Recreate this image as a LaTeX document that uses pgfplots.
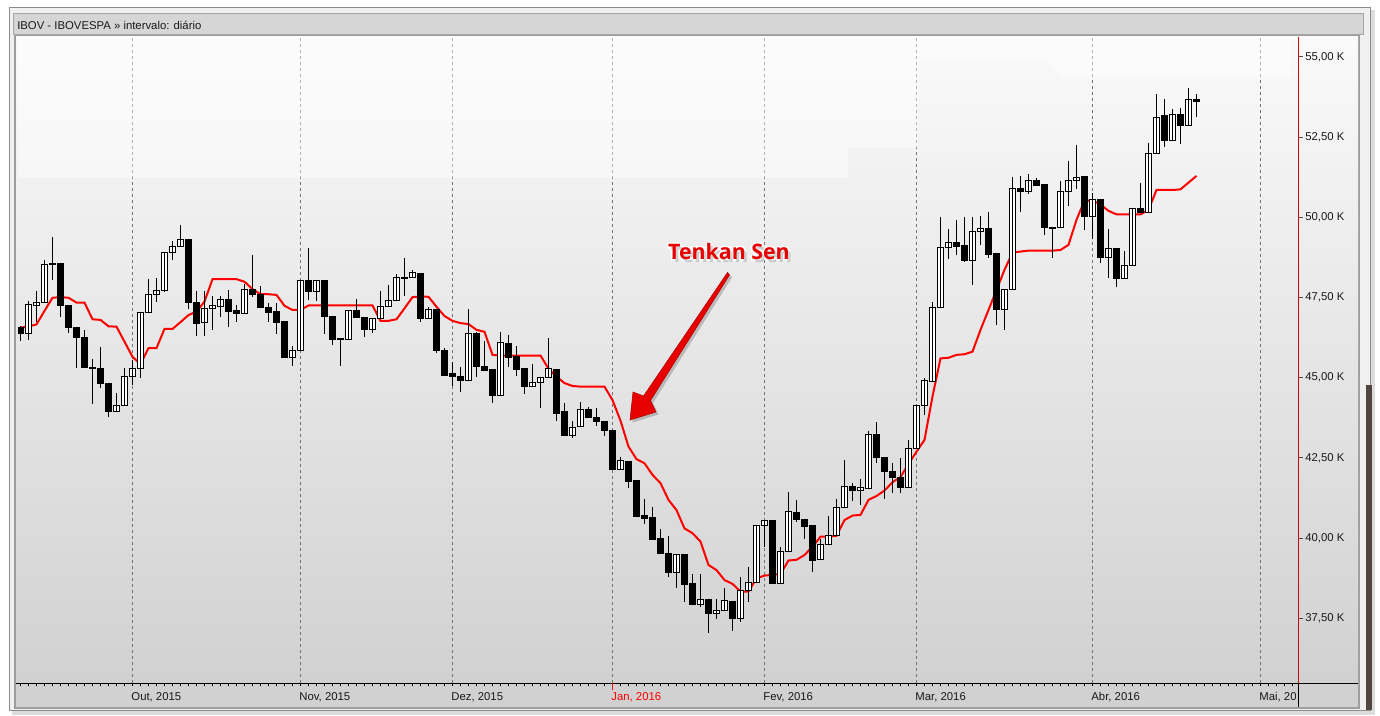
\documentclass[border=0pt]{standalone}
\usepackage{pgfplots}
\pgfplotsset{compat=1.18}
\usepackage{pgfplotstable}
\usepackage{fontspec}
\setmainfont{Liberation Sans}
\newfontfamily\annfont{Open Sans}

\pgfplotstableread{
k o h l c
0 46.55 46.62 46.14 46.37
1 46.37 47.39 46.18 47.27
2 47.25 47.70 46.75 47.35
3 47.35 48.67 47.35 48.54
4 48.52 49.39 48.05 48.56
5 48.55 48.55 46.90 47.25
6 47.25 47.25 46.40 46.56
7 46.57 46.57 45.29 46.25
8 46.26 46.49 45.30 45.32
9 45.33 45.57 44.18 45.30
10 45.29 45.96 44.69 44.81
11 44.83 44.83 43.77 43.94
12 43.94 44.53 43.94 44.14
13 44.14 45.29 44.14 45.04
14 45.04 45.55 44.77 45.29
15 45.29 47.04 44.98 47.04
16 47.02 48.08 47.02 47.60
17 47.60 48.10 47.37 47.73
18 47.73 48.92 47.68 48.91
19 48.91 49.26 48.67 49.08
20 49.08 49.76 49.08 49.32
21 49.32 49.32 47.13 47.34
22 47.35 47.70 46.30 46.68
23 46.73 47.70 46.30 47.16
24 47.17 47.56 46.49 47.24
25 47.23 47.55 46.90 47.45
26 47.45 47.73 46.59 47.06
27 47.08 47.27 46.75 47.00
28 47.01 47.91 47.01 47.76
29 47.76 48.83 47.51 47.58
30 47.58 47.86 47.16 47.18
31 47.20 47.34 46.72 47.03
32 47.05 47.32 46.36 46.72
33 46.74 46.74 45.62 45.64
34 45.64 45.99 45.36 45.86
35 45.86 48.05 45.86 48.04
36 48.04 49.04 47.42 47.68
37 47.68 48.05 47.40 48.04
38 48.04 48.04 46.36 46.90
39 46.92 46.92 46.02 46.20
40 46.21 46.21 45.36 46.19
41 46.20 47.11 46.20 47.09
42 47.09 47.44 46.86 46.87
43 46.88 46.88 46.28 46.49
44 46.51 46.86 46.38 46.85
45 46.85 47.69 46.85 47.21
46 47.21 47.89 47.21 47.41
47 47.41 48.23 47.41 48.13
48 48.08 48.72 47.53 48.13
49 48.13 48.36 48.13 48.29
50 48.26 48.26 46.72 46.84
51 46.85 47.21 46.85 47.13
52 47.13 47.13 45.78 45.84
53 45.86 45.92 45.07 45.08
54 45.12 45.49 44.74 45.03
55 45.05 45.32 44.56 44.91
56 44.91 47.14 44.91 46.38
57 46.38 46.43 45.01 45.34
58 45.36 46.14 45.20 45.22
59 45.24 45.24 44.22 44.44
60 44.44 46.43 44.44 46.10
61 46.08 46.33 45.34 45.64
62 45.66 45.99 45.05 45.24
63 45.27 45.27 44.49 44.72
64 44.72 45.43 44.72 44.86
65 44.86 45.01 44.06 45.01
66 45.01 46.24 45.01 45.27
67 45.24 45.24 43.66 43.88
68 43.93 44.20 43.18 43.19
69 43.19 43.64 43.13 43.45
70 43.48 44.24 43.48 44.01
71 44.01 44.10 43.74 43.75
72 43.77 44.05 43.50 43.63
73 43.64 43.64 43.19 43.35
74 43.34 43.34 42.12 42.13
75 42.13 42.54 42.13 42.42
76 42.40 42.40 41.57 41.76
77 41.78 41.78 40.67 40.67
78 40.69 41.22 40.45 40.60
79 40.63 40.96 39.95 39.95
80 39.97 40.27 39.51 39.51
81 39.52 40.06 38.80 38.92
82 38.92 39.49 38.45 39.49
83 39.49 39.49 38.00 38.56
84 38.57 38.88 37.93 37.93
85 37.93 38.88 37.85 38.07
86 38.07 38.07 37.05 37.65
87 37.65 38.10 37.48 37.73
88 37.74 38.43 37.74 38.04
89 38.03 38.03 37.11 37.50
90 37.50 38.80 37.39 38.36
91 38.36 39.11 38.00 38.62
92 38.62 40.40 38.62 40.40
93 40.40 40.55 39.73 40.55
94 40.55 40.55 38.59 38.59
95 38.59 39.71 38.59 39.59
96 39.59 41.44 39.59 40.83
97 40.80 41.19 40.50 40.58
98 40.58 40.58 39.96 40.35
99 40.38 40.38 38.93 39.29
100 39.34 39.96 39.34 39.81
101 39.81 40.69 39.81 40.07
102 40.07 41.22 40.07 40.96
103 40.96 42.43 40.96 41.61
104 41.61 41.71 41.16 41.48
105 41.49 41.84 41.03 41.56
106 41.55 43.34 41.55 43.23
107 43.23 43.62 42.35 42.51
108 42.52 42.52 41.21 42.07
109 42.08 42.33 41.41 41.88
110 41.89 42.49 41.41 41.58
111 41.58 43.06 41.58 42.80
112 42.80 44.12 42.80 44.12
113 44.12 45.00 43.84 44.90
114 44.88 47.36 44.88 47.20
115 47.19 50.00 47.19 49.07
116 49.07 49.64 48.70 49.22
117 49.22 49.92 48.83 49.08
118 49.11 50.00 48.59 48.65
119 48.65 50.02 47.89 49.57
120 49.57 50.04 49.14 49.64
121 49.64 50.17 48.72 48.83
122 48.86 48.86 46.64 47.11
123 47.11 47.76 46.49 47.76
124 47.76 51.27 47.76 50.91
125 50.91 51.29 50.18 50.80
126 50.80 51.35 50.73 51.16
127 51.16 51.23 50.99 50.99
128 51.01 51.01 49.45 49.68
129 49.69 49.69 48.74 49.64
130 49.68 51.13 49.68 50.81
131 50.81 51.76 50.36 51.16
132 51.16 52.26 50.88 51.25
133 51.26 51.26 49.61 50.02
134 50.02 50.77 49.32 50.56
135 50.54 50.54 48.57 48.75
136 48.75 49.64 48.10 49.03
137 49.03 49.03 47.84 48.10
138 48.10 48.95 48.10 48.50
139 48.50 50.28 48.50 50.28
140 50.28 51.06 50.14 50.14
141 50.14 52.33 50.14 52.00
142 52.00 53.85 52.00 53.12
143 53.16 53.68 52.20 52.39
144 52.39 53.37 52.39 53.21
145 53.21 53.40 52.28 52.86
146 52.86 54.03 52.86 53.68
147 53.68 53.85 53.12 53.61
}\candles

\pgfplotstableread{
k t
0 46.56
1 46.59
2 46.66
3 47.08
4 47.49
5 47.51
6 47.49
7 47.34
8 47.34
9 46.82
10 46.80
11 46.60
12 46.59
13 46.12
14 45.65
15 45.42
16 45.92
17 45.92
18 46.52
19 46.52
20 46.73
21 46.95
22 47.06
23 47.37
24 48.07
25 48.07
26 48.07
27 48.07
28 47.99
29 47.76
30 47.60
31 47.60
32 47.58
33 47.24
34 47.11
35 47.11
36 47.25
37 47.25
38 47.25
39 47.25
40 47.25
41 47.25
42 47.25
43 47.25
44 47.25
45 46.77
46 46.77
47 46.82
48 47.16
49 47.51
50 47.53
51 47.52
52 47.21
53 46.92
54 46.77
55 46.70
56 46.67
57 46.49
58 46.43
59 45.71
60 45.69
61 45.69
62 45.69
63 45.69
64 45.69
65 45.69
66 45.28
67 45.03
68 44.83
69 44.74
70 44.72
71 44.72
72 44.72
73 44.72
74 44.30
75 43.66
76 42.85
77 42.46
78 42.33
79 41.97
80 41.71
81 41.19
82 40.87
83 40.30
84 40.15
85 39.89
86 39.16
87 39.00
88 38.69
89 38.57
90 38.33
91 38.33
92 38.74
93 38.83
94 38.85
95 38.88
96 39.30
97 39.32
98 39.47
99 39.73
100 40.04
101 40.04
102 40.07
103 40.56
104 40.70
105 40.72
106 41.19
107 41.31
108 41.48
109 41.74
110 41.90
111 42.31
112 42.69
113 43.06
114 44.41
115 45.60
116 45.62
117 45.71
118 45.73
119 45.81
120 46.49
121 47.11
122 47.73
123 48.36
124 48.90
125 48.93
126 48.96
127 48.96
128 48.96
129 48.96
130 48.98
131 49.14
132 49.92
133 50.52
134 50.52
135 50.40
136 50.20
137 50.09
138 50.09
139 50.09
140 50.09
141 50.23
142 50.85
143 50.85
144 50.85
145 50.87
146 51.08
147 51.29
}\tenkan

\definecolor{tick}{RGB}{25,25,25}
\definecolor{tenkanred}{RGB}{255,0,0}
\definecolor{annred}{RGB}{230,0,0}
\definecolor{deskdark}{RGB}{82,70,64}

\begin{document}
\begin{tikzpicture}[x=0.75pt,y=-0.75pt]
\useasboundingbox (0,0) rectangle (1380,716);
\fill[white] (0,0) rectangle (1380,716);
% window frame
\fill[black!30, opacity=0.45] (12,10) rectangle (1375,715);
\fill[black!6] (9,7) rectangle (1371,711);
\draw[black!45, line width=0.75pt] (9.5,7.5) rectangle (1370.5,710.5);
\fill[deskdark] (1366,385) rectangle (1372,710);
% title bar
\fill[black!16] (13,13) rectangle (1364,35);
\draw[black!35, line width=0.75pt] (13.5,13.5) rectangle (1363.5,35);
\node[anchor=west, inner sep=0pt, font=\fontsize{8.5}{10}\selectfont, text=black!90] at (17,25) {IBOV - IBOVESPA » intervalo: diário};
% panel
\fill[black!38] (14,35.5) rectangle (1360,709);
\shade[top color=black!2, bottom color=black!18] (16,37) rectangle (1358,683);
\fill[black!18] (16,683) rectangle (1358,707);

\begin{axis}[
  at={(13.5pt,-512.25pt)}, anchor=south west,
  scale only axis, width=960pt, height=484.5pt,
  xmin=-0.3125, xmax=159.69, ymin=35.48, ymax=55.62,
  axis line style={draw=none},
  xtick pos=lower, xticklabel pos=lower,
  ytick pos=right, yticklabel pos=right,
  ybar stacked, bar width=0.72,
  clip=true,
  tick align=outside,
  major tick length=3.75pt, minor tick length=2.25pt,
  xtick={14,35,54,74,93,112,134,155},
  xticklabels={{Out, 2015},{Nov, 2015},{Dez, 2015},{\textcolor{red}{Jan, 2016}},{Fev, 2016},{Mar, 2016},{Abr, 2016},{Mai, 20}},
  every major x tick/.append style={draw=none},
  minor xtick={0,...,159},
  every minor x tick/.append style={black, line width=0.6pt},
  xmajorgrids,
  major grid style={black!55, line width=0.75pt, dash pattern=on 2.25pt off 2.25pt},
  xticklabel style={anchor=north west, inner sep=0pt, xshift=-1pt, yshift=-3pt, font=\fontsize{8.5}{10}\selectfont, text=tick},
  ytick={37.5,40,42.5,45,47.5,50,52.5,55},
  yticklabels={{37,50 K},{40,00 K},{42,50 K},{45,00 K},{47,50 K},{50,00 K},{52,50 K},{55,00 K}},
  ytick style={black!70, line width=0.6pt},
  yticklabel style={anchor=west, inner sep=0pt, xshift=1.5pt, font=\fontsize{8.5}{10}\selectfont, text=tick},
]
% faint cloud region
\addplot[sharp plot, stack plots=false, draw=none, fill=white, fill opacity=0.45, mark=none]
  coordinates {(-0.4,56) (-0.4,51.23) (103.44,51.23) (103.44,52.16) (112.2,52.16) (112.2,54.9) (128.5,54.9) (130,54.38) (158.7,54.38) (158.7,56)};
% wicks
\addplot[sharp plot, stack plots=false, draw=none, mark=none,
  error bars/.cd, y dir=both, y explicit, error mark=none,
  error bar style={draw=black, solid, line width=0.75pt}]
  table[x=k, y expr={(\thisrow{h}+\thisrow{l})/2}, y error expr={(\thisrow{h}-\thisrow{l})/2}] {\candles};
% bodies (stacked): invisible base, up bodies, down bodies
\addplot[draw=none, fill=none] table[x=k, y expr={min(\thisrow{o},\thisrow{c})}] {\candles};
\addplot[draw=black, fill=white, line width=0.75pt] table[x=k, y expr={max(\thisrow{c}-\thisrow{o},0)}] {\candles};
\addplot[draw=black, fill=black, line width=0.75pt] table[x=k, y expr={max(\thisrow{o}-\thisrow{c},0)}] {\candles};
% Tenkan Sen
\addplot[sharp plot, stack plots=false, tenkanred, line width=1.5pt, mark=none] table[x=k, y=t] {\tenkan};
\end{axis}

% axis lines
\draw[black, line width=0.75pt] (16,683) -- (1358,683);
\draw[red!85!black, line width=0.75pt] (1298,37) -- (1298,683);
\draw[black, line width=0.75pt] (1298,683) -- (1298,707);
\draw[red, line width=0.75pt] (612.5,683) -- (612.5,690);

% annotation arrow
\fill[black!60, opacity=0.35] (730,275) -- (732,277.5) -- (653,403) -- (658.5,414.5) -- (632.5,422.5) -- (635.5,394.5) -- (646,398.5) -- cycle;
\fill[annred] (727.5,272.5) -- (729.5,275) -- (650.5,400.5) -- (656,412) -- (630,420) -- (633,392) -- (643.5,396) -- cycle;
\draw[red!70!black, line width=0.4pt] (727.5,272.5) -- (729.5,275) -- (650.5,400.5) -- (656,412) -- (630,420) -- (633,392) -- (643.5,396) -- cycle;
% annotation text
\foreach \dx/\dy in {1.8/0,-1.8/0,0/1.8,0/-1.8,1.3/1.3,-1.3/1.3,1.3/-1.3,-1.3/-1.3}
  \node[font=\annfont\bfseries\fontsize{16}{19}\selectfont, text=white] at (729+\dx,252+\dy) {Tenkan Sen};
\node[font=\annfont\bfseries\fontsize{16}{19}\selectfont, text=black!50, opacity=0.35] at (731.5,254.5) {Tenkan Sen};
\node[font=\annfont\bfseries\fontsize{16}{19}\selectfont, text=annred] at (729,252) {Tenkan Sen};
\end{tikzpicture}
\end{document}
